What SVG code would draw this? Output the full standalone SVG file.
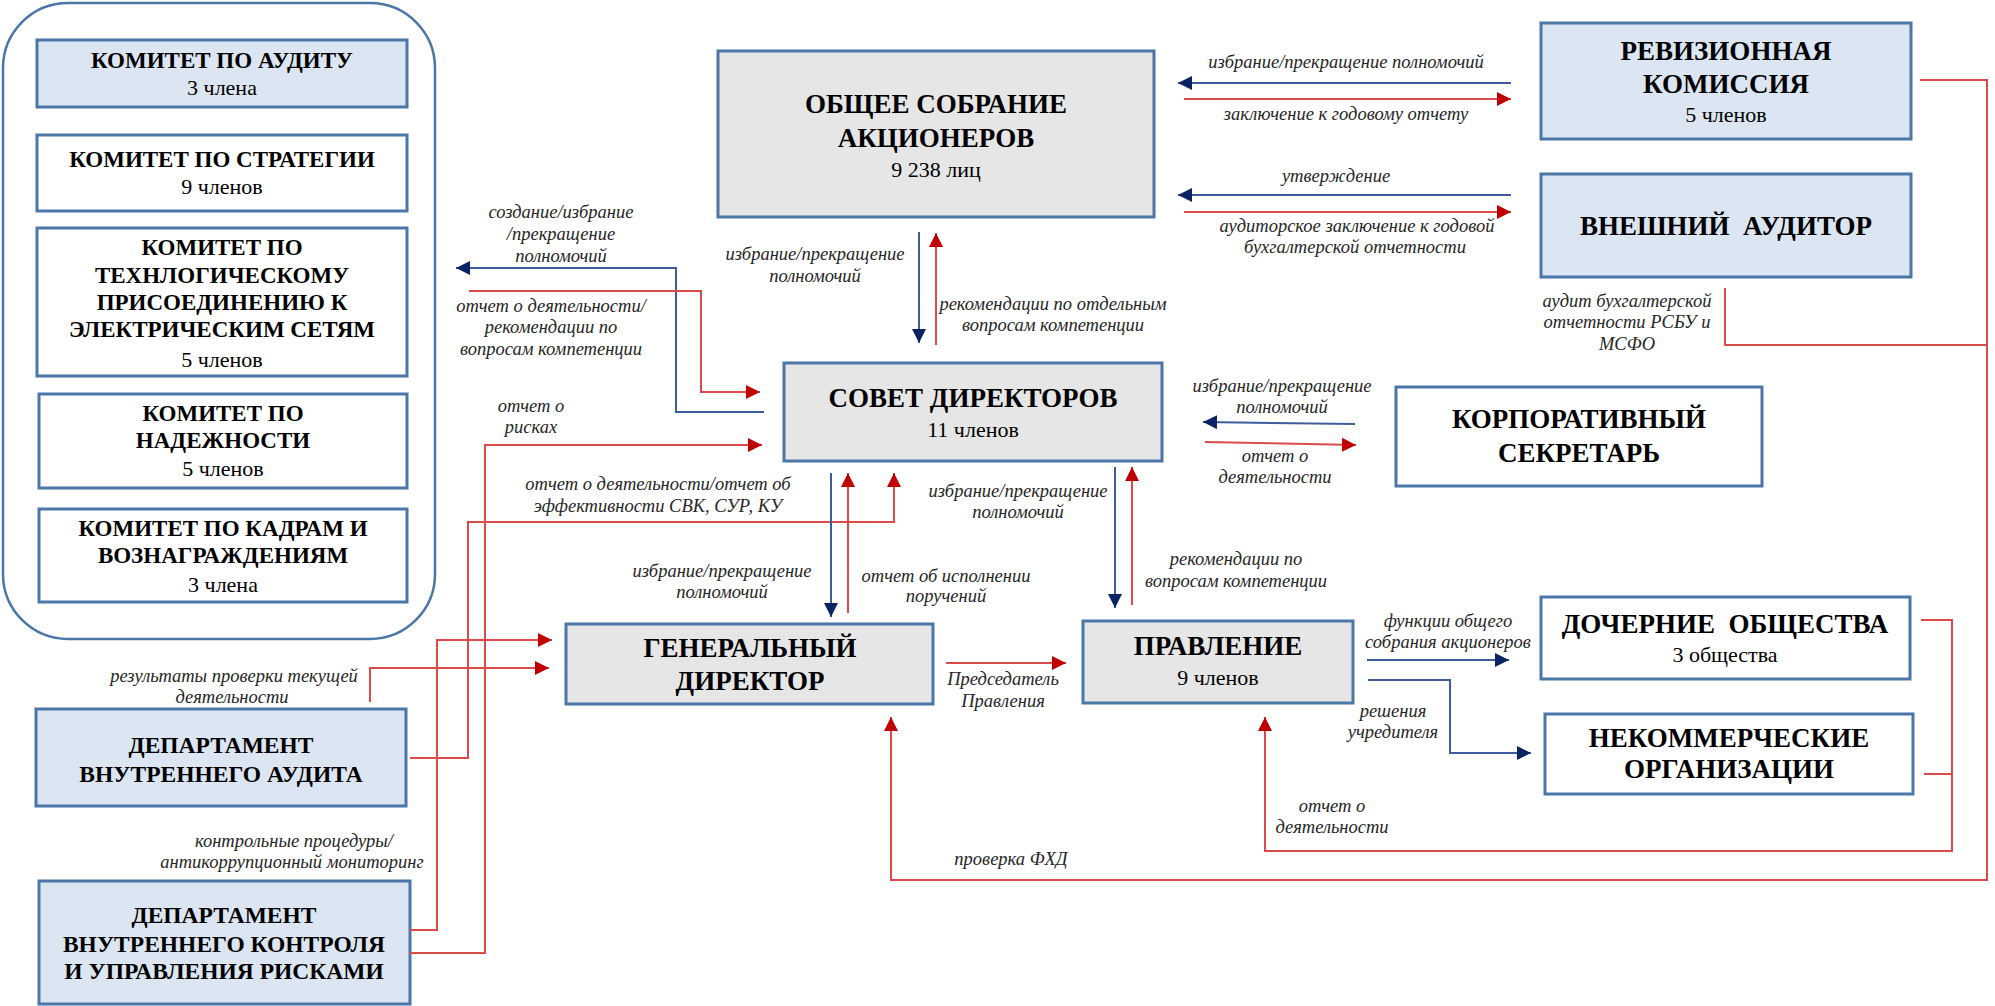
<svg xmlns="http://www.w3.org/2000/svg" width="1995" height="1006" viewBox="0 0 1995 1006">
<style>
.box{stroke:#4a76a8;stroke-width:3}
.gray{fill:#e6e6e6}
.lb{fill:#dce6f2}
.wh{fill:#ffffff}
.t{font-family:"Liberation Serif",serif;font-weight:bold;text-anchor:middle;fill:#000;font-size:27px}
.tc{font-family:"Liberation Serif",serif;font-weight:bold;text-anchor:middle;fill:#000;font-size:23px}
.td{font-family:"Liberation Serif",serif;font-weight:bold;text-anchor:middle;fill:#000;font-size:23.5px}
.s{font-family:"Liberation Serif",serif;text-anchor:middle;fill:#000;font-size:22px}
.l{font-family:"Liberation Serif",serif;font-style:italic;font-size:18.5px;text-anchor:middle;fill:#262626}
.bl{stroke:#3f5d9c;stroke-width:2;fill:none}
.rd{stroke:#dc4a4a;stroke-width:2;fill:none}
</style>
<defs>
<marker id="ab" markerUnits="userSpaceOnUse" markerWidth="16" markerHeight="16" refX="14" refY="7" orient="auto"><path d="M0,0 L14,7 L0,14 z" fill="#0a2463"/></marker>
<marker id="ar" markerUnits="userSpaceOnUse" markerWidth="16" markerHeight="16" refX="14" refY="7" orient="auto"><path d="M0,0 L14,7 L0,14 z" fill="#c00000"/></marker>
</defs>
<rect width="1995" height="1006" fill="#fff"/>

<g id="committees-frame"><rect x="3" y="3" width="432" height="636" rx="65" fill="none" stroke="#4a76a8" stroke-width="2.5"/></g>
<g id="audit-committee"><rect class="box lb" x="37" y="40" width="370" height="67"/><text class="tc" x="222" y="68">КОМИТЕТ ПО АУДИТУ</text><text class="s" x="222" y="95">3 члена</text></g>
<g id="strategy-committee"><rect class="box wh" x="37" y="135" width="370" height="76"/><text class="tc" x="222" y="167">КОМИТЕТ ПО СТРАТЕГИИ</text><text class="s" x="222" y="194">9 членов</text></g>
<g id="tech-committee"><rect class="box wh" x="37" y="228" width="370" height="148"/><text class="tc" x="222" y="255">КОМИТЕТ ПО</text><text class="tc" x="222" y="283">ТЕХНЛОГИЧЕСКОМУ</text><text class="tc" x="222" y="310">ПРИСОЕДИНЕНИЮ К</text><text class="tc" x="222" y="337">ЭЛЕКТРИЧЕСКИМ СЕТЯМ</text><text class="s" x="222" y="367">5 членов</text></g>
<g id="reliability-committee"><rect class="box wh" x="39" y="394" width="368" height="94"/><text class="tc" x="223" y="421">КОМИТЕТ ПО</text><text class="tc" x="223" y="448">НАДЕЖНОСТИ</text><text class="s" x="223" y="476">5 членов</text></g>
<g id="hr-committee"><rect class="box wh" x="39" y="509" width="368" height="93"/><text class="tc" x="223" y="536">КОМИТЕТ ПО КАДРАМ И</text><text class="tc" x="223" y="563">ВОЗНАГРАЖДЕНИЯМ</text><text class="s" x="223" y="592">3 члена</text></g>

<g id="shareholders"><rect class="box gray" x="718" y="51" width="436" height="166"/><text class="t" x="936" y="113">ОБЩЕЕ СОБРАНИЕ</text><text class="t" x="936" y="147">АКЦИОНЕРОВ</text><text class="s" x="936" y="177">9 238 лиц</text></g>
<g id="audit-commission"><rect class="box lb" x="1541" y="23" width="370" height="116"/><text class="t" x="1726" y="60">РЕВИЗИОННАЯ</text><text class="t" x="1726" y="93">КОМИССИЯ</text><text class="s" x="1726" y="122">5 членов</text></g>
<g id="external-auditor"><rect class="box lb" x="1541" y="174" width="370" height="103"/><text class="t" x="1726" y="235" xml:space="preserve">ВНЕШНИЙ  АУДИТОР</text></g>
<g id="board"><rect class="box gray" x="784" y="363" width="378" height="98"/><text class="t" x="973" y="407">СОВЕТ ДИРЕКТОРОВ</text><text class="s" x="973" y="437">11 членов</text></g>
<g id="secretary"><rect class="box wh" x="1396" y="387" width="366" height="99"/><text class="t" x="1579" y="428">КОРПОРАТИВНЫЙ</text><text class="t" x="1579" y="462">СЕКРЕТАРЬ</text></g>
<g id="ceo"><rect class="box gray" x="566" y="624" width="367" height="80"/><text class="t" x="750" y="657" font-size="28">ГЕНЕРАЛЬНЫЙ</text><text class="t" x="750" y="690" font-size="28">ДИРЕКТОР</text></g>
<g id="management"><rect class="box gray" x="1083" y="621" width="270" height="82"/><text class="t" x="1218" y="655">ПРАВЛЕНИЕ</text><text class="s" x="1218" y="685">9 членов</text></g>
<g id="subsidiaries"><rect class="box wh" x="1541" y="597" width="369" height="82"/><text class="t" x="1725" y="633" xml:space="preserve">ДОЧЕРНИЕ  ОБЩЕСТВА</text><text class="s" x="1725" y="662">3 общества</text></g>
<g id="nonprofit"><rect class="box wh" x="1545" y="714" width="368" height="80"/><text class="t" x="1729" y="747">НЕКОММЕРЧЕСКИЕ</text><text class="t" x="1729" y="778">ОРГАНИЗАЦИИ</text></g>
<g id="internal-audit"><rect class="box lb" x="36" y="709" width="370" height="97"/><text class="td" x="221" y="753">ДЕПАРТАМЕНТ</text><text class="td" x="221" y="782">ВНУТРЕННЕГО АУДИТА</text></g>
<g id="internal-control"><rect class="box lb" x="39" y="881" width="371" height="123"/><text class="td" x="224" y="923">ДЕПАРТАМЕНТ</text><text class="td" x="224" y="952">ВНУТРЕННЕГО КОНТРОЛЯ</text><text class="td" x="224" y="979">И УПРАВЛЕНИЯ РИСКАМИ</text></g>

<g id="connectors">
<path class="bl" d="M1511,83 H1178" marker-end="url(#ab)"/>
<path class="rd" d="M1184,99 H1511" marker-end="url(#ar)"/>
<path class="bl" d="M1511,195 H1178" marker-end="url(#ab)"/>
<path class="rd" d="M1184,212 H1511" marker-end="url(#ar)"/>
<path class="bl" d="M919,232 V343" marker-end="url(#ab)"/>
<path class="rd" d="M936,345 V233" marker-end="url(#ar)"/>
<path class="bl" d="M764,412 H676 V268 H456" marker-end="url(#ab)"/>
<path class="rd" d="M469,291 H701 V392 H760" marker-end="url(#ar)"/>
<path class="rd" d="M410,953 H485 V445 H762" marker-end="url(#ar)"/>
<path class="rd" d="M410,758 H468 V522 H894 V473" marker-end="url(#ar)"/>
<path class="bl" d="M831,473 V617" marker-end="url(#ab)"/>
<path class="rd" d="M848,613 V473" marker-end="url(#ar)"/>
<path class="rd" d="M410,930 H437 V640 H552" marker-end="url(#ar)"/>
<path class="rd" d="M370,702 V668 H549" marker-end="url(#ar)"/>
<path class="rd" d="M946,663 H1066" marker-end="url(#ar)"/>
<path class="bl" d="M1115,467 V608" marker-end="url(#ab)"/>
<path class="rd" d="M1132,605 V467" marker-end="url(#ar)"/>
<path class="bl" d="M1355,424 L1203,422" marker-end="url(#ab)"/>
<path class="rd" d="M1205,442 L1356,445" marker-end="url(#ar)"/>
<path class="bl" d="M1367,660 H1509" marker-end="url(#ab)"/>
<path class="bl" d="M1368,680 H1450 V753 H1531" marker-end="url(#ab)"/>
<path class="rd" d="M1921,620 H1952 V851 H1265 V717" marker-end="url(#ar)"/>
<path class="rd" d="M1924,774 H1952"/>
<path class="rd" d="M1920,80 H1987 V880 H891 V717" marker-end="url(#ar)"/>
<path class="rd" d="M1725,288 V345 H1987"/>
</g>

<g id="labels">
<text class="l" x="1346" y="68">избрание/прекращение полномочий</text>
<text class="l" x="1346" y="120">заключение к годовому отчету</text>
<text class="l" x="1336" y="182">утверждение</text>
<text class="l" x="1357" y="232">аудиторское заключение к годовой</text>
<text class="l" x="1355" y="253">бухгалтерской отчетности</text>
<text class="l" x="1627" y="307">аудит бухгалтерской</text>
<text class="l" x="1627" y="328">отчетности РСБУ и</text>
<text class="l" x="1627" y="350">МСФО</text>
<text class="l" x="815" y="260">избрание/прекращение</text>
<text class="l" x="815" y="282">полномочий</text>
<text class="l" x="1053" y="310">рекомендации по отдельным</text>
<text class="l" x="1053" y="331">вопросам компетенции</text>
<text class="l" x="561" y="218">создание/избрание</text>
<text class="l" x="561" y="240">/прекращение</text>
<text class="l" x="561" y="262">полномочий</text>
<text class="l" x="551" y="312">отчет о деятельности/</text>
<text class="l" x="551" y="333">рекомендации по</text>
<text class="l" x="551" y="355">вопросам компетенции</text>
<text class="l" x="531" y="412">отчет о</text>
<text class="l" x="531" y="433">рисках</text>
<text class="l" x="658" y="490">отчет о деятельности/отчет об</text>
<text class="l" x="658" y="512">эффективности СВК, СУР, КУ</text>
<text class="l" x="722" y="577">избрание/прекращение</text>
<text class="l" x="722" y="598">полномочий</text>
<text class="l" x="946" y="582">отчет об исполнении</text>
<text class="l" x="946" y="602">поручений</text>
<text class="l" x="1018" y="497">избрание/прекращение</text>
<text class="l" x="1018" y="518">полномочий</text>
<text class="l" x="1236" y="565">рекомендации по</text>
<text class="l" x="1236" y="587">вопросам компетенции</text>
<text class="l" x="1282" y="392">избрание/прекращение</text>
<text class="l" x="1282" y="413">полномочий</text>
<text class="l" x="1275" y="462">отчет о</text>
<text class="l" x="1275" y="483">деятельности</text>
<text class="l" x="1448" y="627">функции общего</text>
<text class="l" x="1448" y="648">собрания акционеров</text>
<text class="l" x="1393" y="717">решения</text>
<text class="l" x="1393" y="738">учредителя</text>
<text class="l" x="1003" y="685">Председатель</text>
<text class="l" x="1003" y="707">Правления</text>
<text class="l" x="234" y="682">результаты проверки текущей</text>
<text class="l" x="232" y="703">деятельности</text>
<text class="l" x="294" y="847">контрольные процедуры/</text>
<text class="l" x="292" y="868">антикоррупционный мониторинг</text>
<text class="l" x="1332" y="812">отчет о</text>
<text class="l" x="1332" y="833">деятельности</text>
<text class="l" x="1011" y="865">проверка ФХД</text>
</g>
</svg>
